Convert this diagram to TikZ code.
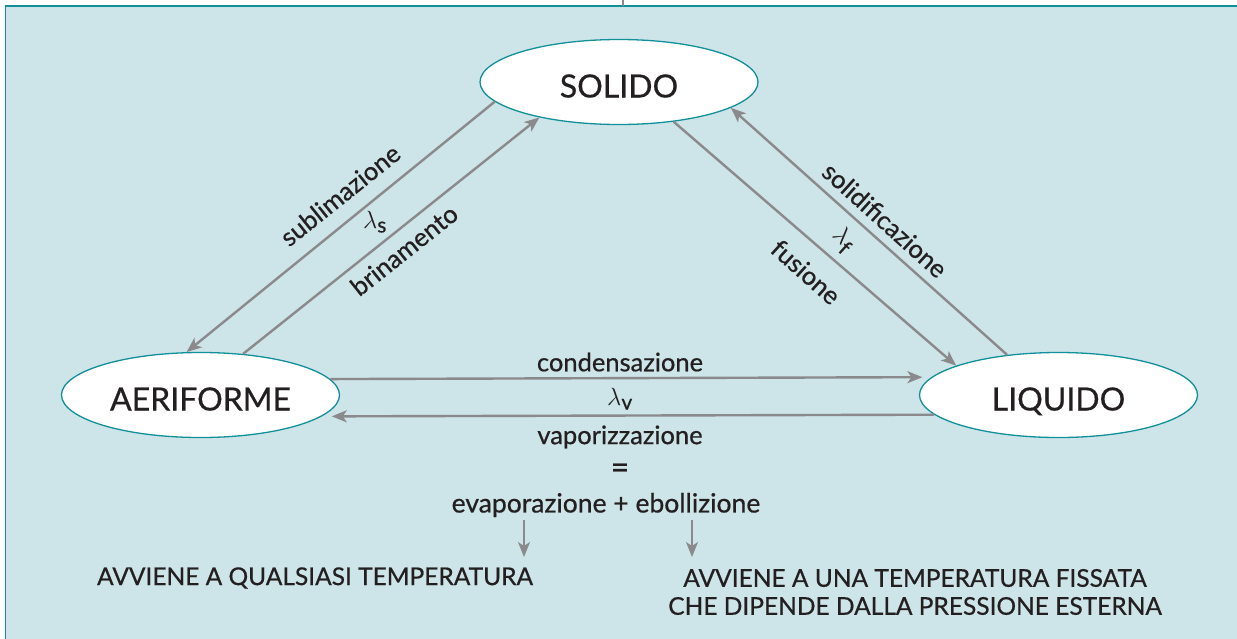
\documentclass[tikz,border=0pt]{standalone}
\usepackage{fontspec}
\setmainfont{Lato}[FakeBold=0.6]
\usetikzlibrary{arrows.meta,calc,shapes.geometric}
\definecolor{bg}{HTML}{CDE4E8}
\definecolor{tealb}{HTML}{12909A}
\definecolor{arr}{HTML}{8A8A8C}
\definecolor{ink}{HTML}{231F20}
\begin{document}
\begin{tikzpicture}[x=1pt,y=-1pt,
  state/.style={ellipse, draw=tealb, line width=1.3pt, fill=white,
    minimum width=278pt, minimum height=85pt, inner sep=0pt,
    text height=31pt, text depth=0pt,
    font=\fontsize{32}{38}\selectfont, text=ink},
  lab/.style={font=\fontsize{25.5}{28}\selectfont, text=ink, inner sep=0pt},
  lam/.style={font=\fontsize{30}{32}\selectfont, text=ink, inner sep=0pt},
  caps/.style={font=\fontsize{24.5}{28}\selectfont, text=ink, inner sep=0pt},
  conn/.style={draw=arr, line width=2.4pt, -{Stealth[length=15pt,width=12pt,inset=4pt]}},
]
\useasboundingbox (0,0) rectangle (1237,638);
\fill[bg] (5.5,6) rectangle (1260,660);
\draw[tealb, line width=1.6pt] (1260,6) -- (5.5,6) -- (5.5,660);
\draw[arr, line width=2pt] (622.7,0) -- (622.7,6);

\node[state] (sol) at (619,82) {SOLIDO};
\node[state] (aer) at (200.5,395) {AERIFORME};
\node[state] (liq) at (1058.5,395) {LIQUIDO};

\draw[conn] (sol.189) -- (aer.108.6);
\draw[conn] (aer.44.7) -- (sol.204);
\draw[conn] (sol.324.5) -- (liq.164.8);
\draw[conn] (liq.142.9) -- (sol.347);
\draw[conn, shorten >=9pt] (aer.7.6) -- (liq.172.4);
\draw[conn, shorten >=10pt] (liq.189.9) -- (aer.350.1);

\node[lab, rotate=38.7] (tsub) at (340,195) {sublimazione};
\node[lam] (lams) at (375,222) {$\lambda_{\mathrm{s}}$};
\node[lab, rotate=38.5] (tbri) at (404,250) {brinamento};
\node[lab, rotate=-42] (tsol) at (885,220) {solidificazione};
\node[lam, rotate=-42] (lamf) at (843,240) {$\lambda_{\mathrm{f}}$};
\node[lab, rotate=-41.7] (tfus) at (806,272) {fusione};

\node[lab] (tcond) at (620,362) {condensazione};
\node[lam] (lamv) at (620,399) {$\lambda_{\mathrm{v}}$};
\node[lab] (tvap) at (620,437) {vaporizzazione};
\node[lab, font=\fontsize{32}{34}\selectfont] (teq) at (620,471) {=};
\node[lab, font=\fontsize{26.5}{28}\selectfont] (tevap) at (606,505) {evaporazione + ebollizione};

\coordinate (d1) at (524,520);
\coordinate (e1) at (524,557);
\coordinate (d2) at (692,520);
\coordinate (e2) at (692,557);
\draw[conn, line width=2pt] (d1) -- (e1);
\draw[conn, line width=2pt] (d2) -- (e2);

\node[caps] (qual) at (315,578) {AVVIENE A QUALSIASI TEMPERATURA};
\node[caps, align=center] (fiss) at (915,592) {AVVIENE A UNA TEMPERATURA FISSATA\\CHE DIPENDE DALLA PRESSIONE ESTERNA};
\end{tikzpicture}
\end{document}
